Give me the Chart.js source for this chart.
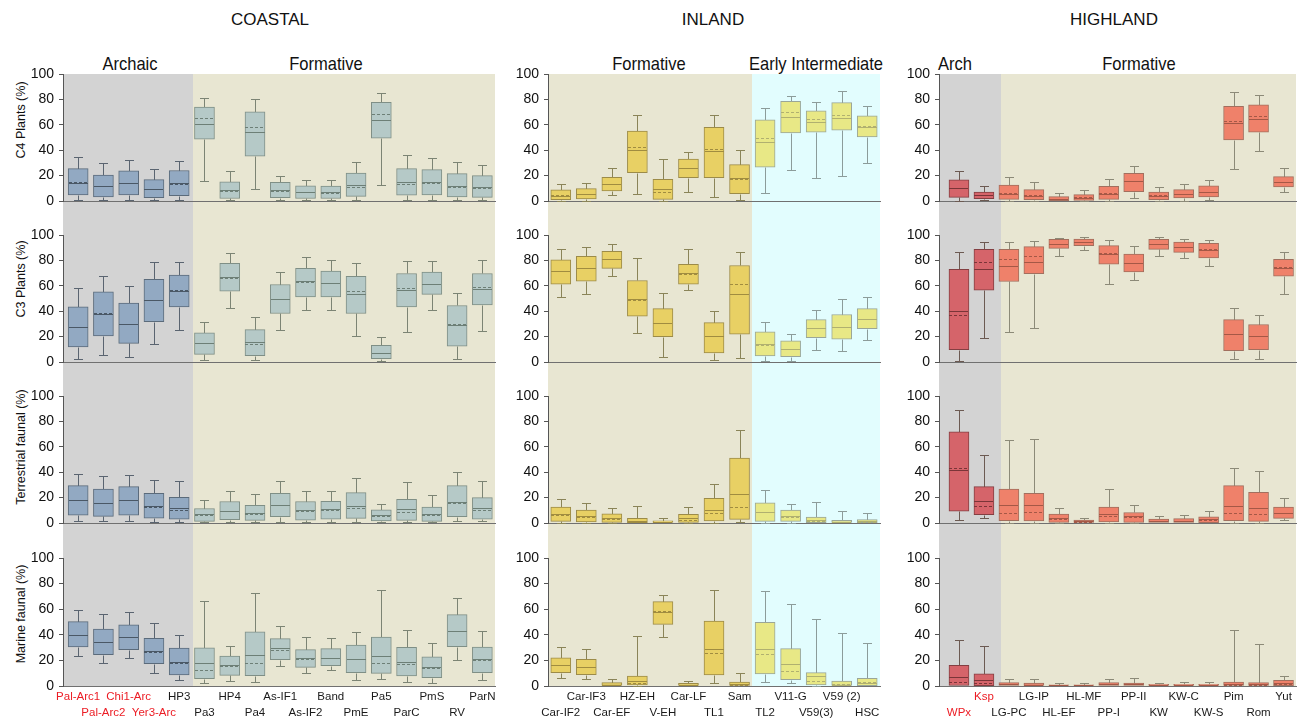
<!DOCTYPE html>
<html><head><meta charset="utf-8">
<script src="https://cdn.jsdelivr.net/npm/chart.js@4.4.0/dist/chart.umd.min.js"></script>
<style>
body{margin:0;width:1306px;height:722px;background:#fff;position:relative;overflow:hidden;font-family:"Liberation Sans",Arial,sans-serif;}
canvas{position:absolute;}
.t{position:absolute;transform:translate(-50%,-50%);white-space:nowrap;color:#111;}
.h{font-size:17px;}
.p{font-family:"Liberation Sans Narrow","Liberation Sans",sans-serif;font-size:19px;transform:translate(-50%,-50%) scaleX(0.87);}
.yt{font-family:"Liberation Sans Narrow","Liberation Sans",sans-serif;font-size:12.5px;transform:translate(-50%,-50%) rotate(-90deg);}
</style></head><body>
<div class="t h" style="left:270px;top:20px">COASTAL</div>
<div class="t h" style="left:713px;top:20px">INLAND</div>
<div class="t h" style="left:1114px;top:20px">HIGHLAND</div>
<div class="t p" style="left:130px;top:64px">Archaic</div>
<div class="t p" style="left:326px;top:64px">Formative</div>
<div class="t p" style="left:649px;top:64px">Formative</div>
<div class="t p" style="left:816px;top:64px">Early Intermediate</div>
<div class="t p" style="left:955px;top:64px">Arch</div>
<div class="t p" style="left:1139px;top:64px">Formative</div>
<div id="yt0" class="t yt" style="left:21px;top:120px"></div>
<div id="yt1" class="t yt" style="left:21px;top:279px"></div>
<div id="yt2" class="t yt" style="left:21px;top:447px"></div>
<div id="yt3" class="t yt" style="left:21px;top:614px"></div>
<script>
// ---------- DATA ----------
const coastalCats = ['Pal-Arc1','Pal-Arc2','Chi1-Arc','Yer3-Arc','HP3','Pa3','HP4','Pa4','As-IF1','As-IF2','Band','PmE','Pa5','ParC','PmS','RV','ParN'];
const inlandCats = ['Car-IF2','Car-IF3','Car-EF','HZ-EH','V-EH','Car-LF','TL1','Sam','TL2','V11-G','V59(3)','V59 (2)','HSC'];
const highlandCats = ['WPx','Ksp','LG-PC','LG-IP','HL-EF','HL-MF','PP-I','PP-II','KW','KW-C','KW-S','Pim','Rom','Yut'];
const rowTitles = ['C4 Plants (%)','C3 Plants (%)','Terrestrial faunal (%)','Marine faunal (%)'];
const yTickValues = [0,20,40,60,80,100];
// each entry: [low whisker, Q1, median, Q3, high whisker, mean]
const coastalC4 = [
[1,4.7,14.5,25.5,34.5,15],[1,3.2,12,20.5,30,11.5],[1,4.7,14.5,23.7,32.4,14.5],[0.5,2.6,9.5,16.8,25,9.2],[1,4.2,14.5,24,31.6,13],
[15.8,48.7,61,74,81.3,65],[0.5,2,9,15,24,8],[9.2,35.3,54,70.3,80,58],[0.5,2.6,8.7,14.7,19.5,8],[0.5,2,7,12,16.8,6.8],
[0.5,2,7,11.8,16.3,6.5],[1,3.7,12.9,22,30.8,11],[12.4,49.5,63.7,77.6,85.3,68.4],[1,4.5,15,25.5,36.6,13.7],[0.5,4.7,15,24.7,34.2,14.5],
[0.5,3.2,11.6,21.6,31,11],[1,2.9,11,20,28.7,10]];
const inlandC4 = [
[0.3,1,4.2,8.7,13.4,5],[0.3,1.6,5.3,9.7,14.2,5.8],[4.5,7.9,13,18.7,25.8,13],[5.3,22.4,40,55,67.4,42.6],[0.3,1.3,9.2,17,33,6.8],
[7.4,18.4,26,33,38.4,26],[3,18.4,39,58,67.4,41.3],[0.5,5.8,17.9,28.7,40.3,17.4],[6.6,26.6,46.3,64,73,50],[24.2,53.7,66,78.4,83,69.7],
[18.4,54.2,62,71,77.6,64.2],[19.5,55.8,65,77.4,86.3,67.9],[29.7,50.5,58,67,74.7,59]];
const highlandC4 = [
[0.3,2.9,10,16.6,24,10],[0.8,1.8,4.5,7.1,11.6,4.5],[0.3,1.3,5.8,12.6,19.2,6.6],[0.3,1,4.2,9,15,5],[0,0.3,1.6,3.4,6.3,1.8],
[0.3,0.5,2.6,5,8.7,3.2],[0.3,1.3,5.8,11.6,17.6,6.6],[2.6,7.4,15.5,21.8,27.6,15.5],[0.3,1,3.7,7.1,11.3,4.5],[0.3,2.4,5.3,9,13.4,5.5],
[1,3.2,6.8,12,16.6,7.1],[25.5,48,61.3,74.5,85.5,62.9],[39,54.2,64.7,75.8,83.4,66.6],[7.1,11,15,19.2,26,15]];
const coastalC3 = [
[2.6,11.8,27.6,43.4,57.9,27.6],[5.8,20.5,38,55.3,68,38.5],[4.2,14.7,30.3,46.3,59.5,30.3],[14.2,31.8,48.7,65,78.7,49.2],[25,43.4,56,68.4,79,56.8],
[1.8,6,15.3,23,31.6,15.3],[42.9,55.8,67,77.6,85.5,66.5],[1.8,5,15.5,25.5,35.5,14.5],[25,38.2,50,61,71,49.5],[40.8,51.3,63.4,73.7,82.4,63],
[41.3,51.3,62,71.6,80,62],[20.8,38.2,53.4,67.4,77.9,55.8],[1,2.6,7.4,13.2,19.7,7],[23.7,43.4,56.6,69.7,79.7,58],[41.3,53.2,61.8,70.8,79.5,61.8],
[2.4,12.4,29,44.5,54,29.7],[24.7,45,57.4,69.7,80,58.7]];
const inlandC3 = [
[50.8,61.3,71.3,80.5,89.2,71.3],[53.4,63.7,73.7,83.2,90.8,73.7],[67.4,73.7,81,87.1,92.6,81],[23.2,36,49.7,64.2,82,48.7],[4.2,20,30.8,42,54,30.8],
[56.3,61.3,70.3,77,89,69],[1.6,7.1,20.3,31,40.5,20.3],[3.2,22,53.7,76,86.8,61.8],[0.8,4.7,14,23.7,31.3,13.2],[1,4.2,10.5,16.6,21.8,10.5],
[9.2,19.2,26.6,33.4,40.8,26.6],[9,17.9,27.9,37.4,50,27.9],[17.1,26.3,34.2,42,51,34.2]];
const highlandC3 = [
[1,9.7,40.3,73,87,37.4],[18.7,56.6,72.9,88.7,94.2,79],[23.7,63.4,75.8,88.7,94.2,81],[26.8,69.5,79,90.8,95.3,83.2],[83.4,89.5,93.2,96.6,97.9,93.2],
[87.9,91.6,94.7,96.8,98.7,94.7],[61.8,77.1,84.7,91.6,96.3,86],[64.7,71,77.6,85,91.6,77.6],[83.7,88.7,93.2,96.6,98.7,93.2],[81.6,86.3,90.8,94.5,97.1,90.8],
[75.8,82,88.2,93.4,96.3,88.7],[2,9,22,33.4,42.6,22],[2,9.7,20.5,29.5,37.1,20.5],[53.4,67.6,73.7,80.8,86.3,74.5]];
const coastalTerr = [
[1.8,6.2,17.9,29.4,38.7,17.9],[1.8,5.2,16.1,26.8,37.1,15.8],[1.8,6.2,17.9,28.6,37.9,17.9],[0.8,3.9,13.5,23.4,33.8,12.5],[0.8,3.1,12,20.3,33,10.1],
[0.8,1.3,6.8,11.4,17.9,6],[0.8,2.6,9.6,16.9,24.9,9.1],[0.8,2.1,7.8,14,22.6,7],[0.8,4.9,14.3,23.4,32.7,14.3],[0.8,2.3,10.6,16.9,24.9,9.6],
[0.8,3.1,10.9,17.1,25.2,10.1],[1,3.6,13.5,23.9,35.3,12.2],[0.8,1.6,6.2,10.4,15.3,5.7],[0.8,2.1,10.9,18.7,31.9,8.6],[0.5,1.3,7,12.5,22.3,6],
[1.8,4.9,16.9,29.4,40,15.6],[1.3,3.1,12,20,32.7,9.9]];
const inlandTerr = [
[0,1.3,7,12.5,19.2,6.2],[0,0.8,5.2,10.1,16.1,4.9],[0,0.5,3.6,7.3,11.7,2.9],[0,0.3,1.3,3.6,13,1],[0,0,0.5,1.8,4.2,0.5],
[0,0.5,3.6,6.8,12.5,2.6],[0.3,1.6,10.1,19.5,30.9,8],[0.8,2.9,23.1,51.2,73.5,12.5],[0.3,1.3,8.6,15.8,25.7,8.6],[0.3,1.3,5.2,10.1,14.8,4.4],
[0,0.3,2.1,4.7,16.9,1.3],[0,0,0.8,2.1,9.4,0.5],[0,0.3,1.3,2.6,7.8,1]];
const highlandTerr = [
[2.1,9.4,42,71.7,89,43.4],[4.2,6.5,17.4,28.6,53.2,13.2],[0.3,1.8,14,26.8,65.2,7.8],[0.3,1.6,14,23.4,66,8.6],[0,0.5,4.2,7,11.7,3.1],
[0,0,1.3,2.3,4.2,1],[0,0.8,7,12.5,26.5,5.2],[0,0.5,5.7,8.3,14.5,4.4],[0,0,1.8,3.1,5.5,1.6],[0,0,1.8,3.4,6,1.8],
[0,0.3,2.9,4.9,9.4,2.3],[0.3,1.8,13.2,29.4,43.4,8],[0.3,1.3,12,24.2,41.3,7.3],[2.1,3.6,7.8,12.5,19.7,8]];
const coastalMar = [
[23.4,30.5,40.1,50.3,59.6,40.1],[17.7,24.5,34.6,44.5,56,34.6],[22.1,28.4,38.3,47.7,57.8,38.3],[10.4,17.4,27.3,37.2,49.5,26.8],[4.7,8.6,19,29.7,40.1,18],
[2.3,5.7,18,29.9,66.1,12.8],[4.2,8.3,16.1,23.4,31.3,15.6],[3.4,8.1,24.2,42.4,72.9,18.2],[15.9,20.6,29.7,37,46.9,27.9],[10.2,14.6,22.1,28.4,38.3,21.4],
[12.2,15.9,21.9,29.2,37.5,22.1],[4.9,10.4,21.4,32,42.2,21.1],[5.7,9.9,23.7,38.3,75,18.2],[2.9,7.8,18.5,30.2,43.8,16.9],[2.3,6.5,15.1,22.7,33.6,14.3],
[20,30.7,43.2,55.7,69,43.2],[4.9,10.4,20.8,30.5,42.7,20.3]];
const inlandMar = [
[6.2,10.4,16.4,22.1,30.2,16.4],[5.2,8.9,14.8,20.8,28.9,14.8],[0,0,1,2.6,5.5,1],[0,0.8,3.9,7.8,39.3,2.3],[38,48.2,57.6,65.9,71.4,58.9],
[0,0,0.8,2.1,4.2,0.8],[2.6,8.6,29.2,50.8,74.7,25.8],[0,0,1.3,3.1,10.4,1],[3.4,9.4,29.2,49.7,74.2,25.3],[2.6,4.9,16.9,29.2,63.8,11.7],
[0,0.8,7.8,10.4,52.6,3.9],[0,0,1,3.9,41.4,1.6],[0,0.3,2.3,6,33.3,3.1]];
const highlandMar = [
[0,0,7,16.1,36.2,3.1],[0,0.3,4.4,9.6,31.3,2.3],[0,0,1.3,2.6,5.7,1.3],[0,0,1,2.3,5.2,1],[0,0,0.5,1,2.1,0.5],
[0,0,0.5,1,2.3,0.5],[0,0,1.3,2.6,5.5,1.3],[0,0,1.3,2.3,6.5,1.3],[0,0,0.5,1.3,2.3,0.5],[0,0,0.5,1.3,2.9,0.5],
[0,0,0.5,1.3,3.1,0.5],[0,0,1.6,3.1,44,0.8],[0,0,1.3,2.6,32.6,0.8],[0,0.3,2.3,4.4,7.8,1.6]];

// ---------- STYLES / LAYOUT ----------
const NARROW = '"Liberation Sans Narrow","Liberation Sans",sans-serif';
const styleA = {fill:'#92a9c2',border:'#5b6b7b',whisk:'#5a6470',med:'#4a5866'};
const styleCF = {fill:'#b5c9c7',border:'#7f8f86',whisk:'#7c8474',med:'#6d7f76'};
const styleIF = {fill:'#e8d064',border:'#9c8b48',whisk:'#8a8458',med:'#a08c40'};
const styleIE = {fill:'#e8e886',border:'#9aa698',whisk:'#8c9c9a',med:'#b0b070'};
const styleHA = {fill:'#d5646a',border:'#843f42',whisk:'#6c5a52',med:'#7a3538'};
const styleHF = {fill:'#ef816a',border:'#a26f5e',whisk:'#8c8a78',med:'#a55846'};

const columns = [
  {cats:coastalCats, data:[coastalC4,coastalC3,coastalTerr,coastalMar], left:0, width:500, axisW:63, padR:5, min:-0.6, max:16.5,
   regions:[[null,4.55,'#d3d3d3'],[4.55,null,'#e8e6d2']], style:i=>i<5?styleA:styleCF,
   lower:i=>i%2===1, red:i=>i<4},
  {cats:inlandCats, data:[inlandC4,inlandC3,inlandTerr,inlandMar], left:505, width:385, axisW:43, padR:10, min:-0.5, max:12.5,
   regions:[[null,7.5,'#e8e6d2'],[7.5,null,'#e2fdfe']], style:i=>i<8?styleIF:styleIE,
   lower:i=>i%2===0, red:i=>false},
  {cats:highlandCats, data:[highlandC4,highlandC3,highlandTerr,highlandMar], left:900, width:406, axisW:39, padR:10, min:-0.8, max:13.5,
   regions:[[null,1.68,'#d3d3d3'],[1.68,null,'#e8e6d2']], style:i=>i<2?styleHA:styleHF,
   lower:i=>i%2===0, red:i=>i<2}
];
const rows = [
  {bandTop:0, bandBottom:218, top:74, bottom:201},
  {bandTop:218, bandBottom:379, top:235, bottom:362},
  {bandTop:379, bandBottom:540, top:396, bottom:523},
  {bandTop:540, bandBottom:722, top:558, bottom:686}
];

rowTitles.forEach((t,i)=>{document.getElementById('yt'+i).textContent=t;});

const boxPlugin = {
  id:'boxplot',
  beforeDraw(chart, args, o){
    const {ctx, chartArea, scales:{x}} = chart;
    const y0 = o.rowIndex===0 ? chartArea.top : 0;
    const y1 = o.rowIndex===3 ? chartArea.bottom : chart.height;
    ctx.save();
    o.regions.forEach(([a,b,c])=>{
      const xa = a===null ? chartArea.left : Math.round(x.getPixelForValue(a));
      const xb = b===null ? chartArea.right : Math.round(x.getPixelForValue(b));
      ctx.fillStyle = c; ctx.fillRect(xa, y0, xb-xa, y1-y0);
    });
    ctx.restore();
  },
  beforeDatasetsDraw(chart, args, o){
    const {ctx, scales:{x,y}} = chart;
    ctx.save(); ctx.lineWidth = 1;
    o.stats.forEach((s,i)=>{
      const st = o.style(i);
      const px = Math.round(x.getPixelForValue(i))+0.5;
      ctx.strokeStyle = st.whisk;
      const seg = (v1,v2)=>{
        const a = Math.round(y.getPixelForValue(v1))+0.5, b = Math.round(y.getPixelForValue(v2))+0.5;
        if (Math.abs(a-b) < 1) return;
        ctx.beginPath(); ctx.moveTo(px,a); ctx.lineTo(px,b);
        ctx.moveTo(px-4.5,b); ctx.lineTo(px+4.5,b); ctx.stroke();
      };
      seg(s[3], s[4]); seg(s[1], s[0]);
    });
    ctx.restore();
  },
  afterDatasetsDraw(chart, args, o){
    const {ctx, scales:{x,y}} = chart;
    ctx.save(); ctx.lineWidth = 1;
    o.stats.forEach((s,i)=>{
      const st = o.style(i);
      const px = x.getPixelForValue(i);
      const xl = Math.round(px-9.5), xr = Math.round(px+9.5);
      ctx.strokeStyle = st.med;
      const ym = Math.round(y.getPixelForValue(s[2]))+0.5;
      ctx.setLineDash([]); ctx.beginPath(); ctx.moveTo(xl,ym); ctx.lineTo(xr,ym); ctx.stroke();
      const ya = Math.round(y.getPixelForValue(s[5]))+0.5;
      ctx.setLineDash([3,2]); ctx.beginPath(); ctx.moveTo(xl,ya); ctx.lineTo(xr,ya); ctx.stroke();
    });
    ctx.restore();
  }
};

columns.forEach((col, ci)=>{
  rows.forEach((row, ri)=>{
    const cv = document.createElement('canvas');
    const h = row.bandBottom - row.bandTop;
    cv.width = col.width; cv.height = h;
    cv.style.left = col.left+'px'; cv.style.top = row.bandTop+'px';
    cv.style.width = col.width+'px'; cv.style.height = h+'px';
    document.body.appendChild(cv);
    const stats = col.data[ri];
    const showLabels = ri===3;
    new Chart(cv.getContext('2d'), {
      type:'bar',
      data:{datasets:[{
        data: stats.map((s,i)=>({x:i, y:[s[1], s[3]]})),
        backgroundColor: stats.map((s,i)=>col.style(i).fill),
        borderColor: stats.map((s,i)=>col.style(i).border),
        borderWidth:1, borderSkipped:false, barThickness:20
      }]},
      options:{
        responsive:false, animation:false, devicePixelRatio:1,
        layout:{padding:{top:row.top-row.bandTop, right:col.padR, left:0, bottom:0}},
        plugins:{legend:{display:false}, tooltip:{enabled:false},
          boxplot:{stats, style:col.style, regions:col.regions, rowIndex:ri}},
        scales:{
          x:{type:'linear', min:col.min, max:col.max, offset:false,
             grid:{display:false, drawTicks:false},
             border:{display:true, color:'#707070', width:1},
             afterBuildTicks:s=>{ s.ticks = col.cats.map((c,i)=>({value:i})); },
             afterFit:s=>{ s.height = row.bandBottom - row.bottom; },
             ticks:{display:showLabels, autoSkip:false, maxRotation:0, minRotation:0, padding:3,
               font:{family:NARROW, size:11.5, lineHeight:1.4},
               color:c=>col.red(c.index)?'#ec1c24':'#1a1a1a',
               callback:(v,i)=>{ const lab = col.cats[i]; return col.lower(i) ? ['', lab] : [lab, '']; }}
          },
          y:{min:0, max:100,
             afterBuildTicks:s=>{ s.ticks = yTickValues.map(v=>({value:v})); },
             afterFit:s=>{ s.width = col.axisW; },
             grid:{display:true, drawOnChartArea:false, drawTicks:true, tickLength:4, color:'#555'},
             border:{display:true, color:'#555', width:1},
             ticks:{font:{family:NARROW, size:14}, color:'#111', padding:5}
          }
        }
      },
      plugins:[boxPlugin]
    });
  });
});
</script>
</body></html>
